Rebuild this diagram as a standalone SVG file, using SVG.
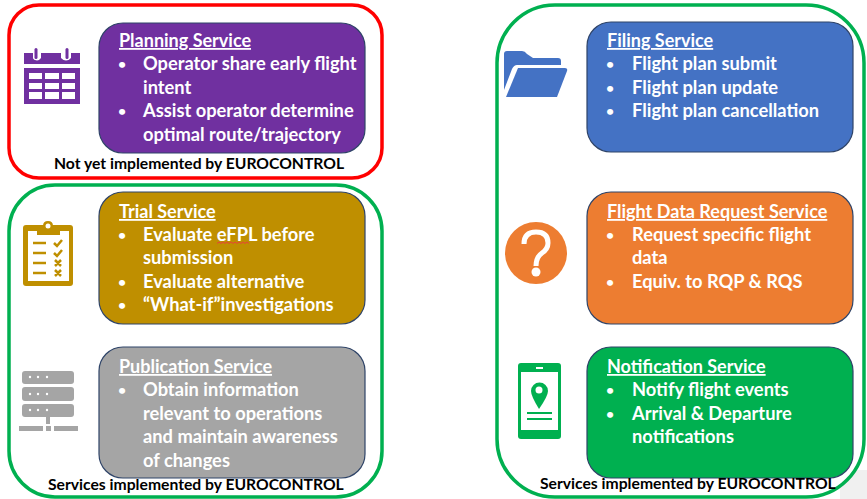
<svg xmlns="http://www.w3.org/2000/svg" width="867" height="499" viewBox="0 0 867 499">
<style>
text{font-family:Lato,"Open Sans","Liberation Sans",sans-serif;font-weight:700}
.t{font-size:18.3px;fill:#fff}
.b{font-size:14px;fill:#fff}
.h{font-size:18px;fill:#fff;text-decoration:underline;text-decoration-skip-ink:none;text-decoration-thickness:1px}
.n{font-size:15.7px;fill:#000}
.box{stroke:#2f4468;stroke-width:1.2}
.fr{fill:#fff;stroke-width:3.500}
</style>
<rect x="840" y="470" width="27" height="29" fill="#f0f0f0"/>
<g id="frame-planning"><rect class="fr" x="9" y="5" width="373" height="173" rx="30" stroke="#ff0000"/></g>
<g id="frame-left"><rect class="fr" x="9" y="185" width="373" height="312" rx="46" stroke="#00b050"/></g>
<g id="frame-right"><rect class="fr" x="497" y="5" width="367" height="492" rx="58" stroke="#00b050"/></g>

<g id="planning-service">
<rect class="box" x="99" y="23" width="266" height="130" rx="24" fill="#7030a0"/>
<text class="h" x="119" y="47">Planning Service</text>
<text class="b" x="118" y="69">•</text><text class="t" x="143" y="70">Operator share early flight</text>
<text class="t" x="143" y="94">intent</text>
<text class="b" x="118" y="116">•</text><text class="t" x="143" y="117">Assist operator determine</text>
<text class="t" x="143" y="141">optimal route/trajectory</text>
</g>
<g id="planning-icon" fill="#7030a0">
<path d="M24 53H33V58Q37 63 41 58V53H61V58Q66 63 71 58V53H80V64H24Z"/>
<rect x="33" y="48" width="6" height="12" rx="3" fill="#fff"/><rect x="34.500" y="48" width="3" height="11" rx="1.500"/>
<rect x="64" y="48" width="6" height="12" rx="3" fill="#fff"/><rect x="65.500" y="48" width="3" height="11" rx="1.500"/>
<path fill-rule="evenodd" d="M24 68H80V104H24ZM29 73V79H42V73ZM45 73V79H59V73ZM62 73V79H75V73ZM29 83V89H42V83ZM45 83V89H59V83ZM62 83V89H75V83ZM29 92V99H42V92ZM45 92V99H59V92ZM62 92V99H75V92Z"/>
</g>
<g id="planning-note"><text class="n" x="54" y="169">Not yet implemented by EUROCONTROL</text></g>

<g id="trial-service">
<rect class="box" x="99" y="192" width="266" height="132" rx="24" fill="#bf8f00"/>
<text class="h" x="119" y="218">Trial Service</text>
<text class="b" x="118" y="240">•</text><text class="t" x="143" y="241">Evaluate eFPL before</text>
<text class="t" x="143" y="264">submission</text>
<text class="b" x="118" y="287">•</text><text class="t" x="143" y="288">Evaluate alternative</text>
<text class="b" x="118" y="310">•</text><text class="t" x="143" y="311">“What-if”investigations</text>
<path d="M217 243.500l2-1.500 2 1.500 2-1.500 2 1.500 2-1.500 2 1.500 2-1.500 2 1.500 2-1.500 2 1.500 2-1.500 2 1.500 2-1.500 2 1.500 2-1.500 2 1.500" fill="none" stroke="#e8403a" stroke-width="1"/>
</g>
<g id="trial-icon">
<rect x="23" y="225" width="50" height="61" rx="3" fill="#bf8f00"/>
<rect x="28" y="231" width="41" height="50" fill="#fff"/>
<path d="M37 235V226H43Q43 221 48 221Q53 221 53 226H60V235Z" fill="#bf8f00"/>
<circle cx="48" cy="226" r="2.500" fill="#fff"/>
<path d="M33 243H46M33 253H46M33 263H46M33 273H46M54 243L57 246 62 240M54 253L57 256 62 250M55 260L61 266M61 260L55 266M55 270L61 276M61 270L55 276" stroke="#bf8f00" stroke-width="2.500" fill="none"/>
</g>

<g id="publication-service">
<rect class="box" x="99" y="347" width="266" height="131" rx="24" fill="#a5a5a5"/>
<text class="h" x="119" y="373">Publication Service</text>
<text class="b" x="118" y="395">•</text><text class="t" x="143" y="396">Obtain information</text>
<text class="t" x="143" y="420">relevant to operations</text>
<text class="t" x="143" y="443">and maintain awareness</text>
<text class="t" x="143" y="467">of changes</text>
</g>
<g id="publication-icon" fill="#a5a5a5">
<rect x="22" y="371" width="52" height="13" rx="3"/><rect x="22" y="387" width="52" height="14" rx="3"/><rect x="22" y="404" width="52" height="13" rx="3"/>
<rect x="46" y="417" width="4" height="7"/><rect x="19" y="426" width="24" height="5"/><rect x="46" y="426" width="5" height="5"/><rect x="54" y="426" width="24" height="5"/>
<g fill="#fff"><circle cx="30" cy="377" r="1.200"/><circle cx="38" cy="377" r="1.200"/><circle cx="47" cy="377" r="1.200"/><circle cx="30" cy="394" r="1.200"/><circle cx="38" cy="394" r="1.200"/><circle cx="47" cy="394" r="1.200"/><circle cx="30" cy="410" r="1.200"/><circle cx="38" cy="410" r="1.200"/><circle cx="47" cy="410" r="1.200"/></g>
</g>
<g id="left-note"><text class="n" x="48" y="490">Services implemented by EUROCONTROL</text></g>

<g id="filing-service">
<rect class="box" x="587" y="22" width="266" height="130" rx="24" fill="#4472c4"/>
<text class="h" x="607" y="47">Filing Service</text>
<text class="b" x="606" y="69">•</text><text class="t" x="632" y="70">Flight plan submit</text>
<text class="b" x="606" y="93">•</text><text class="t" x="632" y="94">Flight plan update</text>
<text class="b" x="606" y="116">•</text><text class="t" x="632" y="117">Flight plan cancellation</text>
</g>
<g id="filing-icon" fill="#4472c4">
<path d="M504 54Q504 51 507 51H522Q525 51 527 54L533 58H558Q561 58 561 61V65H517Q514 65 512 69L504 90Z"/>
<path d="M518 68H565Q568 68 567 71L557 97H506Z"/>
</g>

<g id="flight-data-service">
<rect class="box" x="587" y="192" width="266" height="132" rx="24" fill="#ed7d31"/>
<text class="h" x="607" y="218">Flight Data Request Service</text>
<text class="b" x="606" y="240">•</text><text class="t" x="632" y="241">Request specific flight</text>
<text class="t" x="632" y="264">data</text>
<text class="b" x="606" y="287">•</text><text class="t" x="632" y="288">Equiv. to RQP &amp; RQS</text>
</g>
<g id="flight-data-icon">
<circle cx="536" cy="253" r="31" fill="#ed7d31"/>
<path d="M524 244Q524 232 536 232Q548 232 548 243Q548 249 542 253Q536 257 536 266" fill="none" stroke="#fff" stroke-width="5"/>
<circle cx="536" cy="272" r="4.500" fill="#fff"/>
</g>

<g id="notification-service">
<rect class="box" x="587" y="347" width="266" height="131" rx="24" fill="#00b050"/>
<text class="h" x="607" y="373">Notification Service</text>
<text class="b" x="606" y="395">•</text><text class="t" x="632" y="396">Notify flight events</text>
<text class="b" x="606" y="419">•</text><text class="t" x="632" y="420">Arrival &amp; Departure</text>
<text class="t" x="632" y="443">notifications</text>
</g>
<g id="notification-icon">
<rect x="518" y="363" width="43" height="76" rx="3" fill="#00b050"/>
<rect x="521" y="372" width="37" height="58" fill="#fff"/>
<rect x="536" y="367" width="7" height="2" fill="#fff"/>
<path d="M539 409Q531 396 531 391A8.500 8.500 0 0 1 548 391Q548 396 539 409Z" fill="#00b050"/>
<circle cx="539" cy="390" r="3.500" fill="#fff"/>
<path d="M527 413H552M527 419H552" stroke="#00b050" stroke-width="2"/>
</g>
<g id="right-note"><text class="n" x="540" y="489">Services implemented by EUROCONTROL</text></g>
</svg>
